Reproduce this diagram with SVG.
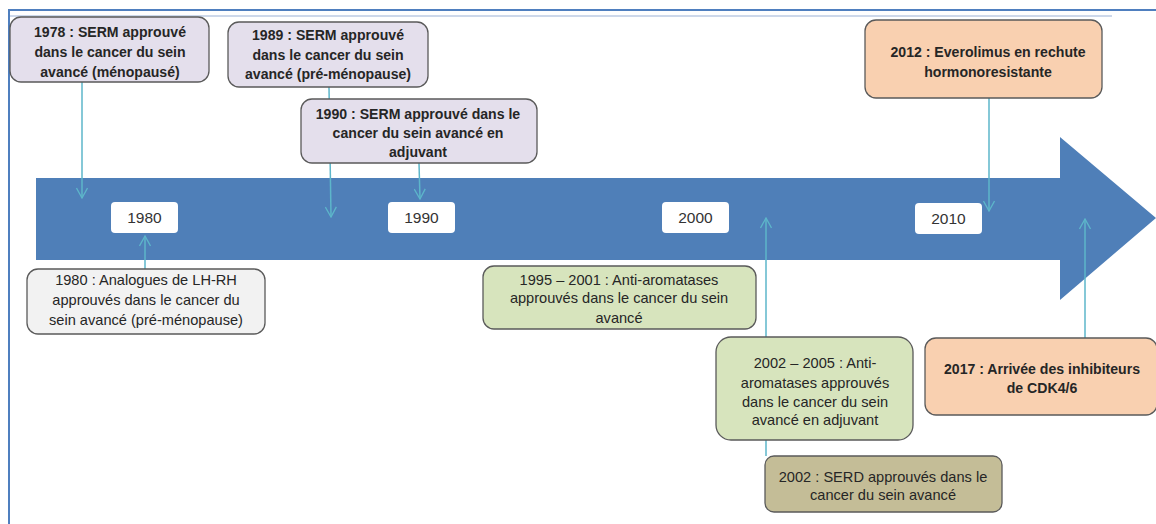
<svg xmlns="http://www.w3.org/2000/svg" width="1156" height="524" viewBox="0 0 1156 524">
<style>
.box{stroke:#5a5a5a;stroke-width:1.3}
.lav{fill:#e4dfec}.gry{fill:#f2f2f2}.grn{fill:#d7e4bd}.kha{fill:#c4bd97}.pch{fill:#f9d0b0}
.t{font-family:"Liberation Sans",Arial,sans-serif;font-size:14.6px;fill:#262626;text-anchor:middle}
.b{font-weight:bold;font-size:14.1px}
.yr{font-family:"Liberation Sans",Arial,sans-serif;font-size:15.5px;fill:#333;text-anchor:middle}
.c{stroke:#5db6ca;stroke-width:1.5;fill:none}
</style>
<defs>
<marker id="ah" viewBox="0 0 12 12" refX="11" refY="6" markerWidth="12" markerHeight="12" markerUnits="userSpaceOnUse" orient="auto">
<path d="M1,0.5 L11,6 L1,11.5" fill="none" stroke="#5db6ca" stroke-width="1.3"/>
</marker>
</defs>
<rect width="1156" height="524" fill="#fff"/>
<g id="frame">
<line x1="8" y1="10" x2="1156" y2="10" stroke="#4f7fbf" stroke-width="2"/>
<line x1="8" y1="16" x2="1112" y2="16" stroke="#9bb1d6" stroke-width="1.2"/>
<line x1="9" y1="9" x2="9" y2="524" stroke="#4f7fbf" stroke-width="2"/>
</g>
<g id="timeline">
<path d="M36,178 H1060 V137 L1156,218 L1060,300 V260 H36 Z" fill="#4f7fb8"/>
<rect x="111" y="202" width="67" height="31" rx="4" fill="#fff"/>
<text class="yr" x="144.5" y="223">1980</text>
<rect x="388" y="202" width="67" height="31" rx="4" fill="#fff"/>
<text class="yr" x="421.5" y="223">1990</text>
<rect x="662" y="202" width="67" height="31" rx="4" fill="#fff"/>
<text class="yr" x="695.5" y="223">2000</text>
<rect x="915" y="203" width="67" height="31" rx="4" fill="#fff"/>
<text class="yr" x="948.5" y="224">2010</text>
</g>
<g id="connectors">
<line class="c" x1="82" y1="82" x2="82" y2="198" marker-end="url(#ah)"/>
<line class="c" x1="329" y1="87" x2="331" y2="217" marker-end="url(#ah)"/>
<line class="c" x1="419" y1="163" x2="420" y2="199" marker-end="url(#ah)"/>
<line class="c" x1="145" y1="269" x2="145" y2="236" marker-end="url(#ah)"/>
<line class="c" x1="766" y1="456" x2="766" y2="218" marker-end="url(#ah)"/>
<line class="c" x1="989" y1="98" x2="989" y2="211" marker-end="url(#ah)"/>
<line class="c" x1="1085" y1="338" x2="1085" y2="219" marker-end="url(#ah)"/>
</g>
<g id="n1978">
<rect class="box lav" x="10" y="17" width="199" height="65" rx="11"/>
<text class="t b" x="110" y="37">1978 : SERM approuvé</text>
<text class="t b" x="110" y="57">dans le cancer du sein</text>
<text class="t b" x="110" y="77">avancé (ménopausé)</text>
</g>
<g id="n1989">
<rect class="box lav" x="228" y="22" width="200" height="65" rx="11"/>
<text class="t b" x="328" y="40">1989 : SERM approuvé</text>
<text class="t b" x="328" y="60">dans le cancer du sein</text>
<text class="t b" x="328" y="79">avancé (pré-ménopause)</text>
</g>
<g id="n1990">
<rect class="box lav" x="301" y="99" width="236" height="64" rx="11"/>
<text class="t b" x="418" y="119">1990 : SERM approuvé dans le</text>
<text class="t b" x="418" y="138">cancer du sein avancé en</text>
<text class="t b" x="418" y="157">adjuvant</text>
</g>
<g id="n1980">
<rect class="box gry" x="27" y="269" width="238" height="65" rx="11"/>
<text class="t" x="146" y="285">1980 : Analogues de LH-RH</text>
<text class="t" x="146" y="305">approuvés dans le cancer du</text>
<text class="t" x="146" y="325">sein avancé (pré-ménopause)</text>
</g>
<g id="n1995">
<rect class="box grn" x="483" y="266" width="273" height="63" rx="11"/>
<text class="t" x="619" y="285">1995 – 2001 : Anti-aromatases</text>
<text class="t" x="619" y="303">approuvés dans le cancer du sein</text>
<text class="t" x="619" y="323">avancé</text>
</g>
<g id="n2002a">
<rect class="box grn" x="716" y="337" width="197" height="103" rx="15"/>
<text class="t" x="815" y="368">2002 – 2005 : Anti-</text>
<text class="t" x="815" y="388">aromatases approuvés</text>
<text class="t" x="815" y="407">dans le cancer du sein</text>
<text class="t" x="815" y="425">avancé en adjuvant</text>
</g>
<g id="n2002b">
<rect class="box kha" x="765" y="456" width="237" height="56" rx="9"/>
<text class="t" x="883" y="482">2002 : SERD approuvés dans le</text>
<text class="t" x="883" y="500">cancer du sein avancé</text>
</g>
<g id="n2012">
<rect class="box pch" x="865" y="20" width="237" height="78" rx="11"/>
<text class="t b" x="988" y="57">2012 : Everolimus en rechute</text>
<text class="t b" x="988" y="77">hormonoresistante</text>
</g>
<g id="n2017">
<rect class="box pch" x="925" y="338" width="232" height="77" rx="11"/>
<text class="t b" x="1042" y="374">2017 : Arrivée des inhibiteurs</text>
<text class="t b" x="1042" y="393">de CDK4/6</text>
</g>
</svg>
